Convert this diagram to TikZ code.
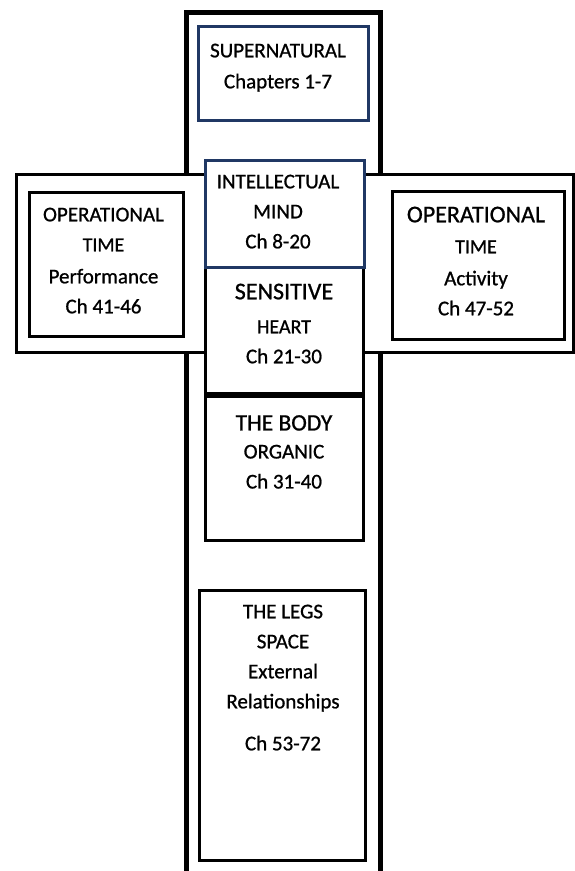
\documentclass[tikz,border=0pt]{standalone}
\usepackage{fontspec}
\setmainfont[FakeBold=0.9]{Carlito}
\usepackage{tikz}
\definecolor{navy}{RGB}{32,56,100}

\begin{document}
\begin{tikzpicture}
            [x=1pt,y=-1pt,
             box/.style={draw,line width=3pt,fill=white,inner sep=0pt},
             bluebox/.style={box,draw=navy},
             txt/.style={anchor=north,align=center,inner sep=0pt,font=\fontsize{21}{30}\selectfont}]
            \useasboundingbox (0,0) rectangle (575,871);
            \clip (0,0) rectangle (575,871);
            % the upright
            \draw[line width=5pt] (186,900) -- (186,12) -- (380,12) -- (380,900);
            % the cross arm
            \draw[line width=3pt,fill=white] (16,174) rectangle (573,352);
            % boxes
            \node[bluebox,minimum width=170pt,minimum height=94pt] (super) at (283,73) {};
            \node[box,minimum width=154pt,minimum height=144pt] (ltime) at (106,264) {};
            \node[box,minimum width=172pt,minimum height=148pt] (rtime) at (478,265) {};
            \node[box,minimum width=158pt,minimum height=126pt] (heart) at (284,330) {};
            \node[bluebox,minimum width=159pt,minimum height=107pt] (mind) at (284.5,213.5) {};
            \node[box,minimum width=158pt,minimum height=144pt] (body) at (284,468) {};
            \node[box,minimum width=166pt,minimum height=270pt] (legs) at (282,725) {};
            % texts
            \node[txt] (supertext) at (278,43.5) {SUPERNATURAL\\[1pt]Chapters 1-7};
            \node[txt] (mindtext) at (278,174.5) {INTELLECTUAL\\MIND\\Ch 8-20};
            \node[txt] (hearttext) at (284,283.5) {{\fontsize{24}{30}\selectfont SENSITIVE}\\[4pt]{\fontsize{20}{30}\selectfont HEART}\\Ch 21-30};
            \node[txt] (bodytext) at (284,415) {{\fontsize{23.5}{30}\selectfont THE BODY}\\[-2pt]ORGANIC\\Ch 31-40};
            \node[txt] (legstext) at (283,604.5) {THE LEGS\\SPACE\\External\\Relationships\\[12pt]Ch 53-72};
            \node[txt] (ltimetext) at (103.5,207.5) {OPERATIONAL\\{\fontsize{20}{30}\selectfont TIME}\\[2pt]Performance\\Ch 41-46};
            \node[txt] (rtimetext) at (476,206.5) {{\fontsize{24}{30}\selectfont OPERATIONAL}\\[1pt]{\fontsize{20}{30}\selectfont TIME}\\[2pt]Activity\\Ch 47-52};
        \end{tikzpicture}
\end{document}
